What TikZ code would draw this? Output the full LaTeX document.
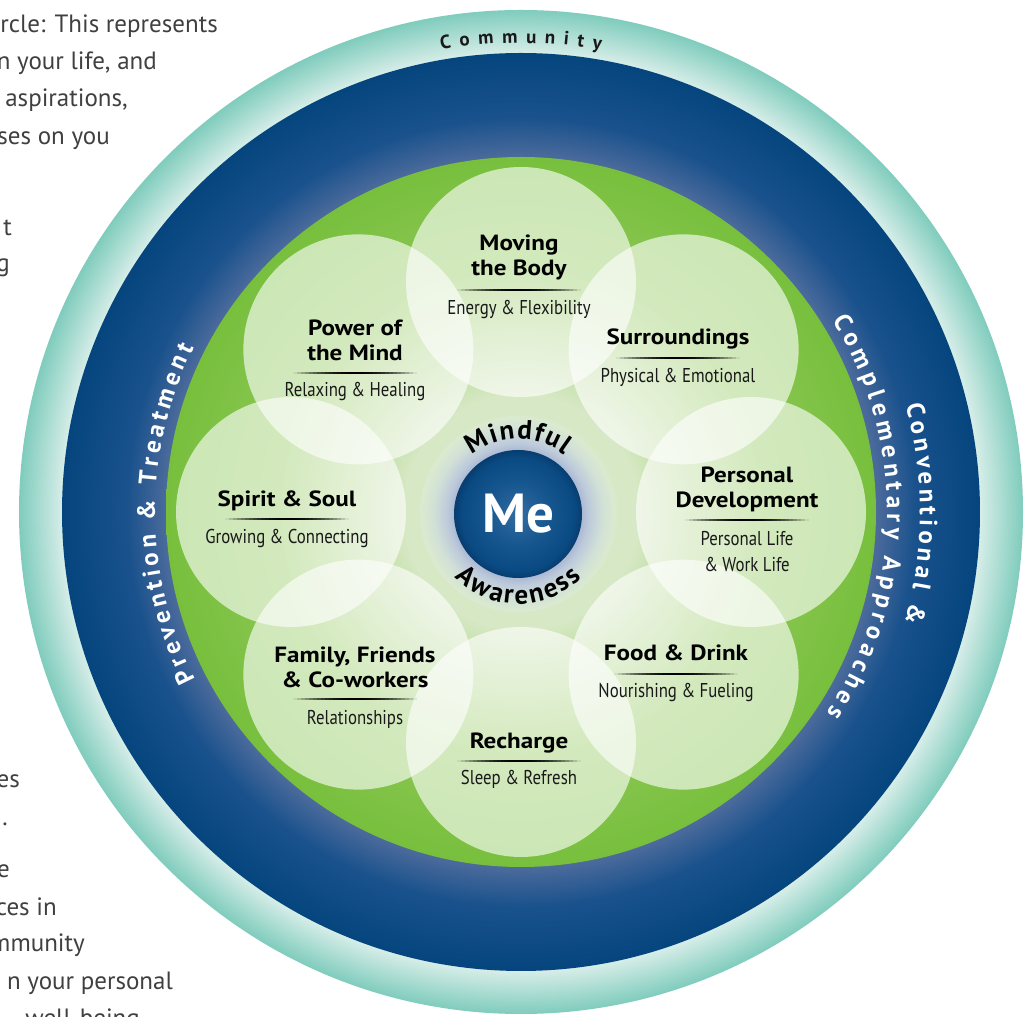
\documentclass[tikz,border=0pt]{standalone}
\usepackage{fontspec}
\setmainfont{PT Sans}
\newfontfamily\condfont[FakeStretch=0.84]{PT Sans}
\newfontfamily\ttlfont[FakeStretch=1.14]{PT Sans}
\usetikzlibrary{decorations.text,calc}
\definecolor{txtgray}{RGB}{64,64,64}
\pgfdeclareradialshading{tealring}{\pgfpoint{0bp}{0bp}}{rgb(0bp)=(0.84,0.93,0.91); rgb(22.85bp)=(0.84,0.93,0.91); rgb(25bp)=(0.50,0.80,0.74); rgb(50bp)=(0.50,0.80,0.74)}
\pgfdeclareradialshading{bluering}{\pgfpoint{0bp}{0bp}}{rgb(0bp)=(0.30,0.42,0.61); rgb(19.3bp)=(0.30,0.42,0.61); rgb(21.5bp)=(0.10,0.32,0.55); rgb(25bp)=(0.02,0.27,0.49); rgb(50bp)=(0.02,0.27,0.49)}
\pgfdeclareradialshading{greendisk}{\pgfpoint{0bp}{0bp}}{rgb(0bp)=(0.86,0.92,0.81); rgb(8.3bp)=(0.84,0.91,0.77); rgb(13bp)=(0.69,0.84,0.53); rgb(17bp)=(0.55,0.78,0.33); rgb(25bp)=(0.47,0.75,0.24); rgb(50bp)=(0.47,0.75,0.24)}
\pgfdeclareradialshading{glow}{\pgfpoint{0bp}{0bp}}{rgb(0bp)=(0.55,0.63,0.76); rgb(15.5bp)=(0.64,0.70,0.81); rgb(18bp)=(0.74,0.79,0.86); rgb(21.5bp)=(0.82,0.88,0.84); rgb(25bp)=(0.86,0.92,0.81); rgb(50bp)=(0.86,0.92,0.81)}
\pgfdeclareradialshading{mecirc}{\pgfpoint{0bp}{0bp}}{rgb(0bp)=(0.20,0.42,0.63); rgb(12bp)=(0.09,0.34,0.56); rgb(22bp)=(0.04,0.29,0.51); rgb(25bp)=(0.03,0.24,0.44); rgb(50bp)=(0.03,0.24,0.44)}
\tikzset{
  lefttxt/.style={anchor=base east, text=txtgray, font=\fontsize{25}{25}\selectfont, inner sep=0pt},
  petal/.style={circle, minimum size=230pt, inner sep=0pt, fill=white, fill opacity=0.62, draw=none},
  ttl/.style={align=center, inner sep=0pt, font=\ttlfont\bfseries\fontsize{22}{25}\selectfont, text=black},
  subt/.style={align=center, inner sep=0pt, font=\condfont\fontsize{20}{26}\selectfont, text=black!90}
}
\newcommand\sepline[2]{%
  \foreach \k [evaluate=\k as \op using {1-(abs(\k)/15.5)^2}] in {-15,...,15}
    {\fill[black, opacity=\op] ({#1+4*\k-2},{#2-1}) rectangle ({#1+4*\k+2},{#2+1});}}
\begin{document}
\begin{tikzpicture}[x=1pt,y=1pt]
\useasboundingbox (0,0) rectangle (1028,1017);
\clip (0,0) rectangle (1028,1017);
\fill[white] (0,0) rectangle (1028,1017);
% left paragraph (cropped)
\node[lefttxt] (l1) at (218,984) {rcle: This represents};
\node[lefttxt] (l2) at (157,947) {n your life, and};
\node[lefttxt] (l3) at (128,910) {aspirations,};
\node[lefttxt] (l4) at (110,872) {ses on you};
\node[lefttxt] (l5) at (12,781) {t};
\node[lefttxt] (l6) at (10,745) {g};
\node[lefttxt] (l7) at (20,229) {es};
\node[lefttxt] (l8) at (8,191) {.};
\node[lefttxt] (l9) at (10,139) {e};
\node[lefttxt] (l10) at (57,101) {ces in};
\node[lefttxt] (l11) at (85,65) {mmunity};
\node[lefttxt] (l12) at (173,27) {n your personal};
\node[lefttxt] (l13) at (140,-10) {well-being};
\begin{scope}[shift={(521,505)}]
\shade[shading=tealring] (0,0) circle (502pt);
\shade[shading=bluering] (0,0) circle (459pt);
\shade[shading=greendisk] (0,0) circle (355pt);
\foreach \i/\ang in {1/90,2/45,3/0,4/-45,5/-90,6/-135,7/180,8/135}
  \node[petal] (p\i) at (\ang:230pt) {};
\coordinate (mec) at (-3,-2);
\shade[shading=glow] (mec) circle (98pt);
\node[circle, minimum size=128pt, inner sep=0pt, shading=mecirc] (me) at (mec) {};
\node[font=\bfseries\fontsize{55}{55}\selectfont, text=white, inner sep=0pt] (metext) at (mec) {Me};
% curved texts
\path[decorate, decoration={text along path, text align=fit to path, text color=black!90,
  text={|\bfseries\fontsize{19}{19}\selectfont|Community}}]
  (99.8:469pt) arc[start angle=99.8, end angle=80.2, radius=469pt];
\path[decorate, decoration={text along path, text align=fit to path, text color=white,
  text={|\bfseries\fontsize{25}{25}\selectfont|Prevention {\&} Treatment}}]
  (207.3:366pt) arc[start angle=207.3, end angle=153.4, radius=366pt];
\path[decorate, decoration={text along path, text align=fit to path, text color=white,
  text={|\bfseries\fontsize{25}{25}\selectfont|Conventional {\&}}}]
  (15.5:399pt) arc[start angle=15.5, end angle=-16, radius=399pt];
\path[decorate, decoration={text along path, text align=fit to path, text color=white,
  text={|\bfseries\fontsize{25}{25}\selectfont|Complementary Approaches}}]
  (31.6:366pt) arc[start angle=31.6, end angle=-33.3, radius=366pt];
\path[decorate, decoration={text along path, text align=fit to path, text color=black,
  text={|\bfseries\fontsize{27}{27}\selectfont|Mindful}}]
  ($(mec)+(128:75pt)$) arc[start angle=128, end angle=52, radius=75pt];
\path[decorate, decoration={text along path, text align=fit to path, text color=black,
  text={|\bfseries\fontsize{27}{27}\selectfont|Awareness}}]
  ($(mec)+(225:90pt)$) arc[start angle=225, end angle=315, radius=90pt];
% petal texts
\node[ttl] (t1) at (-2,254.5) {Moving\\the Body};
\node[subt] (s1) at (-2,202) {Energy \& Flexibility};
\sepline{-2}{222}
\node[ttl] (t2) at (157,173.5) {Surroundings};
\node[subt] (s2) at (157,135) {Physical \& Emotional};
\sepline{157}{154}
\node[ttl] (t3) at (226,22.5) {Personal\\Development};
\node[subt] (s3) at (226,-40) {Personal Life\\\& Work Life};
\sepline{226}{-8}
\node[ttl] (t4) at (155,-141) {Food \& Drink};
\node[subt] (s4) at (155,-181) {Nourishing \& Fueling};
\sepline{155}{-162}
\node[ttl] (t5) at (-2,-231) {Recharge};
\node[subt] (s5) at (-2,-267) {Sleep \& Refresh};
\sepline{-2}{-249}
\node[ttl] (t6) at (-166,-155) {Family, Friends\\\& Co-workers};
\node[subt] (s6) at (-166,-207) {Relationships};
\sepline{-166}{-187}
\node[ttl] (t7) at (-234,11) {Spirit \& Soul};
\node[subt] (s7) at (-234,-27) {Growing \& Connecting};
\sepline{-234}{-7}
\node[ttl] (t8) at (-166,172) {Power of\\the Mind};
\node[subt] (s8) at (-166,120) {Relaxing \& Healing};
\sepline{-166}{139}
\end{scope}
\end{tikzpicture}
\end{document}
